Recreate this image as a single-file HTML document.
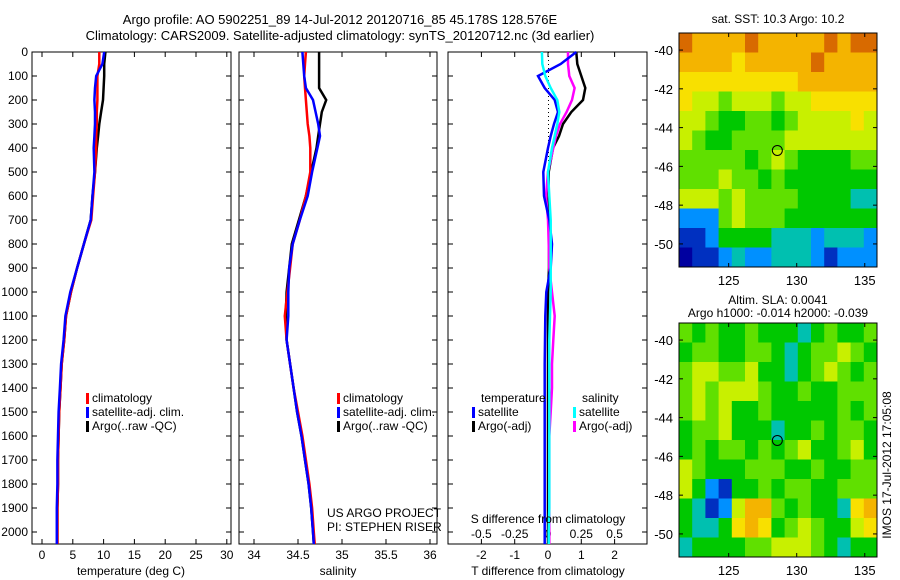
<!DOCTYPE html>
<html><head><meta charset="utf-8"><style>
body{margin:0;background:#fff;}
svg{display:block;font-family:"Liberation Sans",sans-serif;font-size:12px;}
</style></head><body>
<svg id="fig" width="900" height="580" viewBox="0 0 900 580">
<text x="340" y="24" text-anchor="middle" font-size="13">Argo profile: AO 5902251_89 14-Jul-2012 20120716_85 45.178S 128.576E</text>
<text x="340" y="40" text-anchor="middle" font-size="13">Climatology: CARS2009. Satellite-adjusted climatology: synTS_20120712.nc (3d earlier)</text>
</svg>
<script>
const depths=[0,50,100,150,200,250,300,350,400,500,600,700,800,900,1000,1100,1200,1300,1400,1500,1600,1700,1800,1900,2000,2050];
const tClim=[9.3,9.3,9.0,9.0,9.0,8.9,8.9,8.8,8.8,8.6,8.3,8.0,6.8,5.7,4.7,3.9,3.6,3.2,3.0,2.8,2.7,2.6,2.6,2.5,2.5,2.5];
const tSat=[10.1,9.8,8.8,8.6,8.5,8.6,8.6,8.5,8.4,8.5,8.2,7.9,6.8,5.7,4.6,3.8,3.5,3.1,2.9,2.7,2.6,2.5,2.5,2.4,2.4,2.4];
const tArgo=[10.3,10.1,10.1,10.0,9.9,9.6,9.3,9.1,8.9,8.6,8.2,7.9,6.8,5.7,4.7,3.9,3.6,3.2,3.0,2.8,2.7,2.6,2.6,2.5,2.5,2.5];
const sClim=[34.59,34.58,34.57,34.58,34.59,34.60,34.61,34.63,34.64,34.64,34.59,34.52,34.44,34.41,34.38,34.35,34.37,34.41,34.45,34.50,34.55,34.59,34.63,34.66,34.68,34.69];
const sSat=[34.55,34.56,34.57,34.59,34.67,34.70,34.73,34.75,34.72,34.66,34.61,34.52,34.44,34.40,34.39,34.39,34.37,34.41,34.45,34.49,34.54,34.58,34.62,34.65,34.67,34.68];
const sArgo=[34.74,34.74,34.74,34.74,34.82,34.77,34.75,34.73,34.71,34.65,34.59,34.51,34.43,34.40,34.37,34.36,34.37,34.41,34.45,34.49,34.54,34.58,34.62,34.65,34.67,34.68];
const tDiffSat=[0.85,0.38,-0.3,-0.1,0.2,0.3,0.18,0.08,0,-0.14,-0.12,0.04,0.12,0.08,-0.05,-0.08,-0.09,-0.1,-0.1,-0.1,-0.1,-0.1,-0.1,-0.1,-0.1,-0.1];
const tDiffArgo=[0.85,0.88,1.0,1.12,1.05,0.7,0.45,0.33,0.15,0.02,0.02,0.02,0.03,0.03,0,0,0,0,0,0,0,0,0,0,0,0];
const sDiffSat=[-0.046,-0.043,-0.02,0.02,0.07,0.085,0.07,0.05,0.03,0,0.01,0.02,0.02,0.02,0.02,0.015,0.01,0.01,0.01,0.01,0.01,0.01,0.01,0.01,0.005,0.005];
const sDiffArgo=[0.15,0.15,0.16,0.2,0.18,0.14,0.09,0.06,0.04,0,-0.015,0,0.005,0.01,0.03,0.05,0.04,0.03,0.03,0.02,0.01,0.01,0.01,0.01,0.01,0.01];
const depthTicks=[0,100,200,300,400,500,600,700,800,900,1000,1100,1200,1300,1400,1500,1600,1700,1800,1900,2000];
const tTicks=[0,5,10,15,20,25,30];
const sTicks=[34,34.5,35,35.5,36];
const sTickLabels=["34","34.5","35","35.5","36"];
const tdTicks=[-2,-1,0,1,2];
const sdTicks=[-0.5,-0.25,0,0.25,0.5];
const sdTickLabels=["-0.5","-0.25","0","0.25","0.5"];
const lonTicks=[125,130,135];
const latTicks=[-40,-42,-44,-46,-48,-50];
const sstGrid=[
[9,8,8,8,8,9,8,8,8,8,8,9,8,9,9],
[8,8,8,8,7,8,8,8,8,8,9,8,8,8,8],
[7,7,7,7,7,7,7,7,7,8,8,8,8,8,8],
[7,6,6,5,6,6,6,5,6,6,7,7,7,7,7],
[6,6,5,4,4,5,5,4,5,6,6,6,6,7,6],
[6,5,4,4,5,5,5,5,6,6,6,6,6,6,6],
[5,5,5,5,5,4,5,6,5,4,4,4,4,5,5],
[5,5,5,6,5,5,4,5,4,4,4,4,4,4,4],
[6,6,6,5,6,5,5,5,5,4,4,4,4,3,3],
[2,2,2,5,6,5,5,5,4,4,4,4,4,4,4],
[1,1,2,4,4,4,4,3,3,3,2,3,3,3,2],
[0,1,1,2,3,2,2,3,3,3,2,1,2,2,2]];
const slaGrid=[
[5,4,5,4,4,5,4,4,4,3,4,5,4,4,5],
[4,5,5,4,4,5,5,4,3,4,5,5,6,5,4],
[5,6,6,5,5,6,4,4,3,4,5,6,5,4,5],
[5,6,5,6,6,6,5,4,4,5,4,4,5,5,5],
[5,6,5,6,4,4,5,4,4,4,4,4,5,4,5],
[4,5,5,6,4,4,4,3,4,4,5,4,5,5,4],
[4,5,4,5,5,4,5,4,5,6,4,4,5,6,4],
[6,5,4,4,4,5,5,5,4,4,5,4,4,5,5],
[6,4,2,1,4,4,5,4,5,5,4,4,5,5,5],
[4,3,1,2,6,8,8,5,4,5,4,4,3,7,8],
[4,3,3,4,7,8,7,4,5,6,5,4,4,6,7],
[3,4,4,4,4,5,5,6,6,6,5,4,3,4,4]];
const argoLon=128.576, argoLat=-45.178;

const NS="http://www.w3.org/2000/svg";
const svg=document.getElementById('fig');
function mk(tag,at,parent){const e=document.createElementNS(NS,tag);for(const k in at)e.setAttribute(k,at[k]);(parent||svg).appendChild(e);return e;}
function txt(x,y,s,anchor,name,size){const e=mk('text',{x:x,y:y,'text-anchor':anchor||'start','font-size':size||12});e.textContent=s;


return e;}

const Y0=52,Y1=544;
const yD=d=>Y0+d*(532-52)/2000;
function panel(x0,x1,name,leftLabels){
 const r=mk('rect',{x:x0,y:Y0,width:x1-x0,height:Y1-Y0,fill:'none',stroke:'#000','stroke-width':1});
 
 
 depthTicks.forEach(d=>{const y=yD(d);mk('line',{x1:x0,x2:x0+5,y1:y,y2:y,stroke:'#000'});mk('line',{x1:x1-5,x2:x1,y1:y,y2:y,stroke:'#000'});
  if(leftLabels)txt(x0-4,y+4,String(d),'end','depth-tick-label');});
}
function series(xf,vals,color,name){
 const pts=depths.map((d,i)=>xf(vals[i]).toFixed(1)+','+yD(d).toFixed(1)).join(' ');
 const p=mk('polyline',{points:pts,fill:'none',stroke:color,'stroke-width':2.5});
 
 
}
function xticks(x0,x1,ticks,labels,xf,name){
 ticks.forEach((t,i)=>{const x=xf(t);mk('line',{x1:x,x2:x,y1:Y1,y2:Y1-5,stroke:'#000'});mk('line',{x1:x,x2:x,y1:Y0,y2:Y0+5,stroke:'#000'});
 txt(x,Y1+15,labels[i],'middle',name);});
}
function legendEntry(x,y,color,label,name){
 const b=mk('rect',{x:x,y:y-9,width:3,height:11,fill:color});
 
 
 txt(x+6,y,label,'start',name);
}

// Panel 1 temperature
const xT=v=>42+v*6.16;
panel(32,231,'temperature-panel',true);
xticks(32,231,tTicks,tTicks.map(String),xT,'temperature-tick-label');
series(xT,tArgo,'#000','temperature-argo-line');
series(xT,tClim,'#f00','temperature-climatology-line');
series(xT,tSat,'#00f','temperature-satellite-line');
txt(131,575,'temperature (deg C)','middle','temperature-axis-title');
legendEntry(86,402,'#f00','climatology','legend-climatology');
legendEntry(86,416,'#00f','satellite-adj. clim.','legend-satellite');
legendEntry(86,430,'#000','Argo(..raw -QC)','legend-argo');

// Panel 2 salinity
const xS=v=>254+(v-34)*88;
panel(239,437,'salinity-panel',false);
xticks(239,437,sTicks,sTickLabels,xS,'salinity-tick-label');
series(xS,sArgo,'#000','salinity-argo-line');
series(xS,sClim,'#f00','salinity-climatology-line');
series(xS,sSat,'#00f','salinity-satellite-line');
txt(338,575,'salinity','middle','salinity-axis-title');
legendEntry(337,402,'#f00','climatology','legend-climatology-2');
legendEntry(337,416,'#00f','satellite-adj. clim.','legend-satellite-2');
legendEntry(337,430,'#000','Argo(..raw -QC)','legend-argo-2');
txt(327,517,'US ARGO PROJECT','start','project-credit');
txt(327,531,'PI: STEPHEN RISER','start','pi-credit');

// Panel 3 differences
const xTd=v=>548+v*33.3, xSd=v=>548+v*133.2;
panel(448,647,'difference-panel',false);
xticks(448,647,tdTicks,tdTicks.map(String),xTd,'t-difference-tick-label');
sdTicks.forEach((t,i)=>txt(xSd(t),538,sdTickLabels[i],'middle','s-difference-tick-label'));
mk('line',{x1:548.5,x2:548.5,y1:Y0,y2:200,stroke:'#000','stroke-dasharray':'1,3'});
series(xTd,tDiffArgo,'#000','t-diff-argo-line');
series(xSd,sDiffArgo,'#f0f','s-diff-argo-line');
series(xTd,tDiffSat,'#00f','t-diff-satellite-line');
series(xSd,sDiffSat,'#0ff','s-diff-satellite-line');
txt(548,523,'S difference from climatology','middle','s-difference-axis-title');
txt(548,575,'T difference from climatology','middle','t-difference-axis-title');
txt(481,402,'temperature','start','legend-temperature-heading');
txt(582,402,'salinity','start','legend-salinity-heading');
legendEntry(472,416,'#00f','satellite','legend-t-satellite');
legendEntry(472,430,'#000','Argo(-adj)','legend-t-argo');
legendEntry(573,416,'#0ff','satellite','legend-s-satellite');
legendEntry(573,430,'#f0f','Argo(-adj)','legend-s-argo');

// Maps
const cmap=['#0000a0','#0030c0','#0090ff','#00c0b0','#00c800','#60e000','#c8f000','#f8e000','#f4b400','#d86a00'];
const LON0=121.35,LON1=135.9,LAT0=-39.12,LAT1=-51.19;
function map(top,grid,name){
 const X0=679,X1=877,H=234;
 const lx=v=>X0+(v-LON0)/(LON1-LON0)*(X1-X0);
 const ly=v=>top+(v-LAT0)/(LAT1-LAT0)*H;
 const rows=grid.length,cols=grid[0].length,cw=(X1-X0)/cols,ch=H/rows;
 grid.forEach((row,r)=>row.forEach((v,c)=>{const e=mk('rect',{x:X0+c*cw,y:top+r*ch,width:cw+0.5,height:ch+0.5,fill:cmap[v]});
  
  }));
 const f=mk('rect',{x:X0,y:top,width:X1-X0,height:H,fill:'none',stroke:'#000'});
 
 
 lonTicks.forEach(l=>{const x=lx(l);mk('line',{x1:x,x2:x,y1:top,y2:top+4,stroke:'#000'});mk('line',{x1:x,x2:x,y1:top+H,y2:top+H-4,stroke:'#000'});txt(x,top+H+18,String(l),'middle',name+'-lon-label',13);});
 latTicks.forEach(l=>{const y=ly(l);mk('line',{x1:X0,x2:X0+4,y1:y,y2:y,stroke:'#000'});mk('line',{x1:X1,x2:X1-4,y1:y,y2:y,stroke:'#000'});txt(X0-6,y+5,String(l),'end',name+'-lat-label',13);});
 const c=mk('circle',{cx:lx(argoLon),cy:ly(argoLat),r:5,fill:'none',stroke:'#000'});
 
 
}
map(33,sstGrid,'sst-map');
map(323,slaGrid,'sla-map');
txt(778,23,'sat. SST: 10.3 Argo: 10.2','middle','sst-map-title');
txt(778,304,'Altim. SLA: 0.0041','middle','sla-map-title-1');
txt(778,317,'Argo h1000: -0.014 h2000: -0.039','middle','sla-map-title-2');
const v=txt(0,0,'IMOS 17-Jul-2012 17:05:08','middle','timestamp-label',12);
v.setAttribute('transform','translate(891,465) rotate(-90)');
</script>
</body></html>
